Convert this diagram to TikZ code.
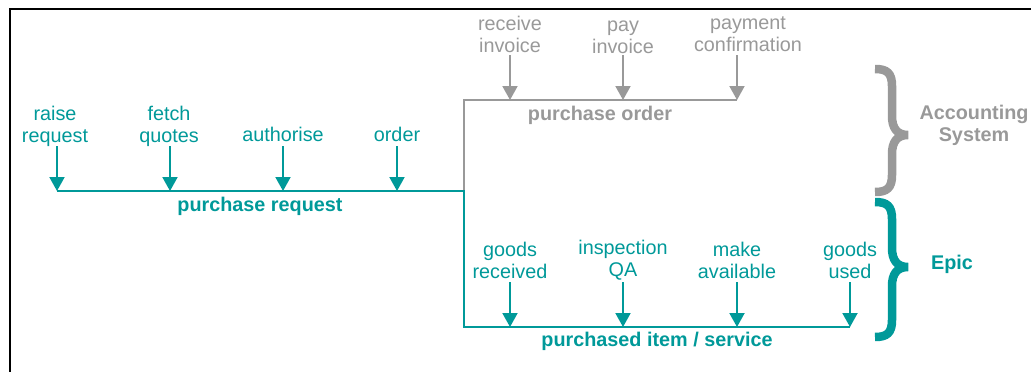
\documentclass[tikz,border=0pt]{standalone}
\usepackage{fontspec}
\setmainfont{Liberation Sans}
\usetikzlibrary{arrows.meta}
\definecolor{tealc}{RGB}{0,153,153}
\definecolor{grayc}{RGB}{153,153,153}
\begin{document}
\begin{tikzpicture}[x=1pt,y=-1pt,
  lbl/.style={font=\fontsize{19.8}{22}\selectfont, align=center, inner sep=0pt},
  ttl/.style={font=\fontsize{19.8}{22}\selectfont\bfseries, align=center, inner sep=0pt},
  arr/.style={line width=2pt, -{Triangle[width=15pt,length=14pt]}},
  bus/.style={line width=2.5pt},
  brace/.style={line width=8.5pt},
  frame/.style={line width=2pt, black}]
\useasboundingbox (0,0) rectangle (1031,372);
% frame
\coordinate (fbl) at (9.5,373);
\coordinate (ftl) at (9.5,8.5);
\coordinate (ftr) at (1032,8.5);
\draw[frame] (fbl) -- (ftl) -- (ftr);
% buses
\coordinate (j1) at (464,100);
\coordinate (j2) at (464,191);
\coordinate (j3) at (464,327);
\coordinate (poe) at (737,100);
\coordinate (pre) at (57,191);
\coordinate (pie) at (850,327);
\draw[bus,grayc] (j2) -- (j1) -- (poe);
\draw[bus,tealc] (pre) -- (j2) -- (j3) -- (pie);
% purchase request steps
\foreach \n/\lx/\x/\y/\t in {a1/55/57/126/{raise\\request}, a2/169/170/126/{fetch\\quotes}, a3/283/283/134.6/{authorise}, a4/397/397/134.6/{order}}{
  \node[lbl,text=tealc] (\n) at (\lx,\y) {\t};
  \coordinate (\n s) at (\x,146);
  \coordinate (\n e) at (\x,191);
  \draw[arr,tealc] (\n s) -- (\n e);
}
% purchase order steps
\foreach \n/\lx/\x/\y/\t in {b1/510/510/34/{receive\\invoice}, b2/623/623/37/{pay\\invoice}, b3/748/737/34.5/{payment\\confirmation}}{
  \node[lbl,text=grayc] (\n) at (\lx,\y) {\t};
  \coordinate (\n s) at (\x,55);
  \coordinate (\n e) at (\x,100);
  \draw[arr,grayc] (\n s) -- (\n e);
}
% purchased item steps
\foreach \n/\lx/\x/\y/\t in {c1/510/510/260/{goods\\received}, c2/623/623/260.4/{inspection\\QA}, c3/737/737/260.8/{make\\available}, c4/850/850/260/{goods\\used}}{
  \node[lbl,text=tealc] (\n) at (\lx,\y) {\t};
  \coordinate (\n s) at (\x,282);
  \coordinate (\n e) at (\x,327);
  \draw[arr,tealc] (\n s) -- (\n e);
}
% bus labels
\node[ttl,text=tealc] (prl) at (260,206.6) {purchase request};
\node[ttl,text=grayc] (pol) at (600,114.9) {purchase order};
\node[ttl,text=tealc] (pil) at (657,341.7) {purchased item / service};
% braces
\draw[brace,grayc] (875,69) .. controls (887,69) and (892,73) .. (892,86)
  -- (892,116) .. controls (892,128) and (897,135) .. (908,135)
  .. controls (897,135) and (892,142) .. (892,154)
  -- (892,175) .. controls (892,188) and (887,192) .. (875,192);
\draw[brace,tealc] (875,202) .. controls (887,202) and (892,206) .. (892,219)
  -- (892,248) .. controls (892,260) and (897,267) .. (908,267)
  .. controls (897,267) and (892,274) .. (892,286)
  -- (892,320) .. controls (892,333) and (887,337) .. (875,337);
\node[ttl,text=grayc] (acc) at (974,125) {Accounting\\System};
\node[ttl,text=tealc] (epic) at (952,264.3) {Epic};
\end{tikzpicture}
\end{document}
